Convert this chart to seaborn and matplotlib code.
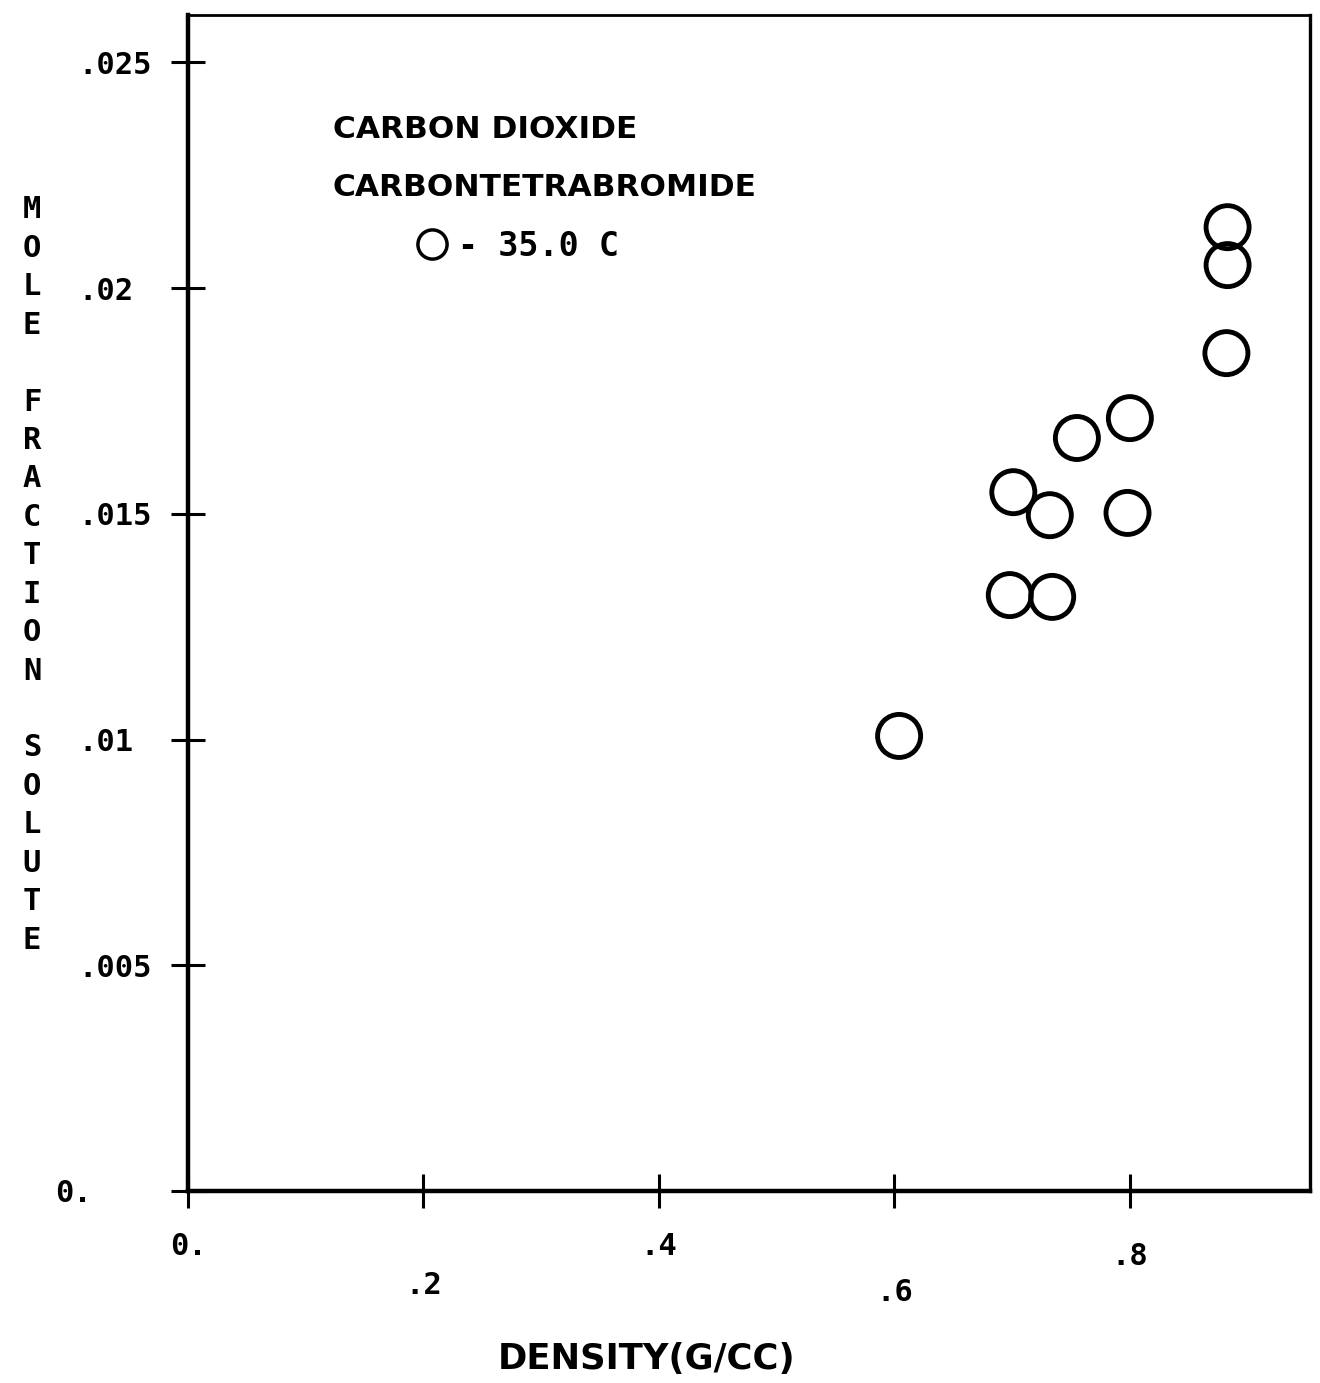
import matplotlib
matplotlib.use("Agg")
import matplotlib.pyplot as plt
from matplotlib.lines import Line2D
import seaborn as sns
import pandas as pd

# ---- data ----
density = [0.604, 0.698, 0.734, 0.701, 0.732, 0.755, 0.800, 0.798, 0.882, 0.883, 0.883]
mole_fraction = [0.01008, 0.01320, 0.01316, 0.01548, 0.01497, 0.01668,
                 0.01712, 0.01502, 0.01856, 0.02051, 0.02135]
x_ticks = [0.0, 0.2, 0.4, 0.6, 0.8]
x_tick_labels = ["0.", ".2", ".4", ".6", ".8"]
y_ticks = [0.0, 0.005, 0.01, 0.015, 0.02, 0.025]
y_tick_labels = ["0.", ".005", ".01", ".015", ".02", ".025"]
title_lines = ["CARBON DIOXIDE", "CARBONTETRABROMIDE"]
series_label = "- 35.0 C"
x_label = "DENSITY(G/CC)"
y_label = "MOLE FRACTION SOLUTE"

df = pd.DataFrame({"density": density, "mole_fraction": mole_fraction})

sns.set_theme(style="white")
plt.rcParams["font.family"] = ["DejaVu Sans Mono", "DejaVu Sans"]
plt.rcParams["font.weight"] = "bold"
plt.rcParams["text.color"] = "black"
plt.rcParams["axes.labelcolor"] = "black"

fig = plt.figure(figsize=(13.2, 13.83), dpi=100)
ax = fig.add_axes([188 / 1320, 1 - 1191 / 1383, 1122 / 1320, 1176 / 1383])

sns.scatterplot(data=df, x="density", y="mole_fraction", ax=ax,
                marker="o", s=960, facecolor="none", edgecolor="black",
                linewidth=3.5, legend=False)

ax.set_xlim(0, 0.953)
ax.set_ylim(0, 0.02605)

for side, lw in [("left", 3.2), ("bottom", 3.2), ("top", 2.0), ("right", 2.4)]:
    ax.spines[side].set_visible(True)
    ax.spines[side].set_color("black")
    ax.spines[side].set_linewidth(lw)

ax.set_xticks(x_ticks)
ax.set_xticklabels(x_tick_labels)
ax.set_yticks(y_ticks)
ax.set_yticklabels(y_tick_labels)
ax.tick_params(axis="both", which="major", bottom=True, left=True,
               top=False, right=False, direction="inout", length=25,
               width=2.2, color="black", labelsize=22, labelcolor="black")
for lab in ax.get_yticklabels():
    lab.set_ha("left")
    lab.set_fontweight("bold")
for lab in ax.get_xticklabels():
    lab.set_fontweight("bold")

x_pads = [17, 45, 17, 50, 24]
for t, p in zip(ax.xaxis.get_major_ticks(), x_pads):
    t.set_pad(p)
y_pads = [83, 66.7, 66.7, 66.7, 66.7, 66.7]
for t, p in zip(ax.yaxis.get_major_ticks(), y_pads):
    t.set_pad(p)

ax.set_xlabel(x_label, fontsize=25.5, fontweight="bold", color="black",
              family="DejaVu Sans")
ax.xaxis.set_label_coords((647 - 188) / 1122, -(1342 - 1191) / 1176)

ax.set_ylabel("\n".join(list(y_label)), rotation=0, fontsize=22,
              fontweight="bold", color="black", linespacing=1.41,
              va="center", ha="center")
ax.yaxis.set_label_coords((32 - 188) / 1122, 1 - (575 - 15) / 1176)

# annotation block
for txt, ypx in zip(title_lines, [130, 188]):
    ax.text((333 - 188) / 1122, 1 - (ypx - 15) / 1176, txt,
            transform=ax.transAxes, fontsize=22.5, fontweight="bold",
            family="DejaVu Sans", va="center", ha="left", color="black")

handle = Line2D([], [], marker="o", ls="", markerfacecolor="none",
                markeredgecolor="black", markersize=21, markeredgewidth=2.5)
leg = ax.legend([handle], [series_label], loc="center left",
                bbox_to_anchor=((415 - 188) / 1122, 1 - (246 - 15) / 1176),
                frameon=False, borderpad=0, borderaxespad=0,
                handlelength=1.0, handletextpad=0.3, labelcolor="black",
                prop={"family": "DejaVu Sans Mono", "weight": "bold", "size": 24})

fig.savefig("out.png", dpi=100, facecolor="white")
